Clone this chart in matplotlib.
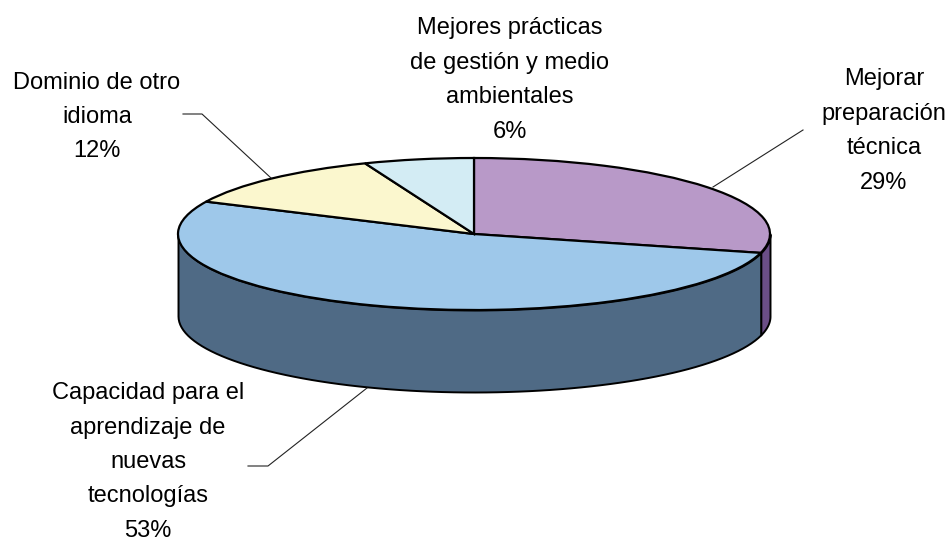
import numpy as np
import matplotlib
matplotlib.use('Agg')
import matplotlib.pyplot as plt

labels = ['Mejorar\npreparación\ntécnica\n29%',
          'Capacidad para el\naprendizaje de\nnuevas\ntecnologías\n53%',
          'Dominio de otro\nidioma\n12%',
          'Mejores prácticas\nde gestión y medio\nambientales\n6%']
values = [29, 53, 12, 6]
colors = ['#B899C8', '#9EC8EA', '#FBF7CE', '#D3ECF4']
side_colors = ['#6B4E87', '#4F6A85', '#8A8660', '#6F8A90']

W, H = 952, 540
cx, cy, rx, ry = 474, 234, 296, 76
depth = 82 / ry

plt.rcParams['font.family'] = ['Liberation Sans', 'DejaVu Sans']

fig = plt.figure(figsize=(W / 100, H / 100), dpi=100, facecolor='white')
ax = fig.add_axes([(cx - rx) / W, 1 - (cy + ry) / H, 2 * rx / W, 2 * ry / H])

# side walls first, only the front half of the ellipse shows
angles = 90 - np.cumsum([0] + values) * 3.6
for i in range(len(values)):
    hi, lo = angles[i], angles[i + 1]
    # visible part lies between -180 and 0 degrees
    for shift in (0, -360):
        a = max(lo, -180 + shift)
        b = min(hi, 0 + shift)
        if b <= a:
            continue
        t = np.radians(np.linspace(a, b, 80))
        xs = np.cos(t)
        top = np.sin(t)
        ax.fill_between(xs, top - depth, top, facecolor=side_colors[i],
                        edgecolor='black', linewidth=1.4, clip_on=False, zorder=1)

ax.pie(values, colors=colors, startangle=90, counterclock=False, radius=1,
       wedgeprops=dict(edgecolor='black', linewidth=1.6, clip_on=False, zorder=2))
ax.set_aspect('auto')
ax.set_xlim(-1, 1)
ax.set_ylim(-1, 1)
ax.axis('off')

# leader lines in pixels of the picture
def px(x, y):
    return x / W, 1 - y / H

leaders = [[(803, 130), (713, 187)],
           [(248, 466), (268, 466), (367, 388)],
           [(183, 114), (202, 114), (271, 178)]]
for pts in leaders:
    fig.add_artist(plt.Line2D([px(*p)[0] for p in pts], [px(*p)[1] for p in pts],
                              color='#222222', linewidth=0.8))

positions = [(884, 131), (148, 462), (97, 117), (510, 80)]
for lab, pos in zip(labels, positions):
    x, y = px(*pos)
    fig.text(x, y, lab, ha='center', va='center', fontsize=17, linespacing=1.73, color='black')

plt.savefig('out.png', dpi=100)
